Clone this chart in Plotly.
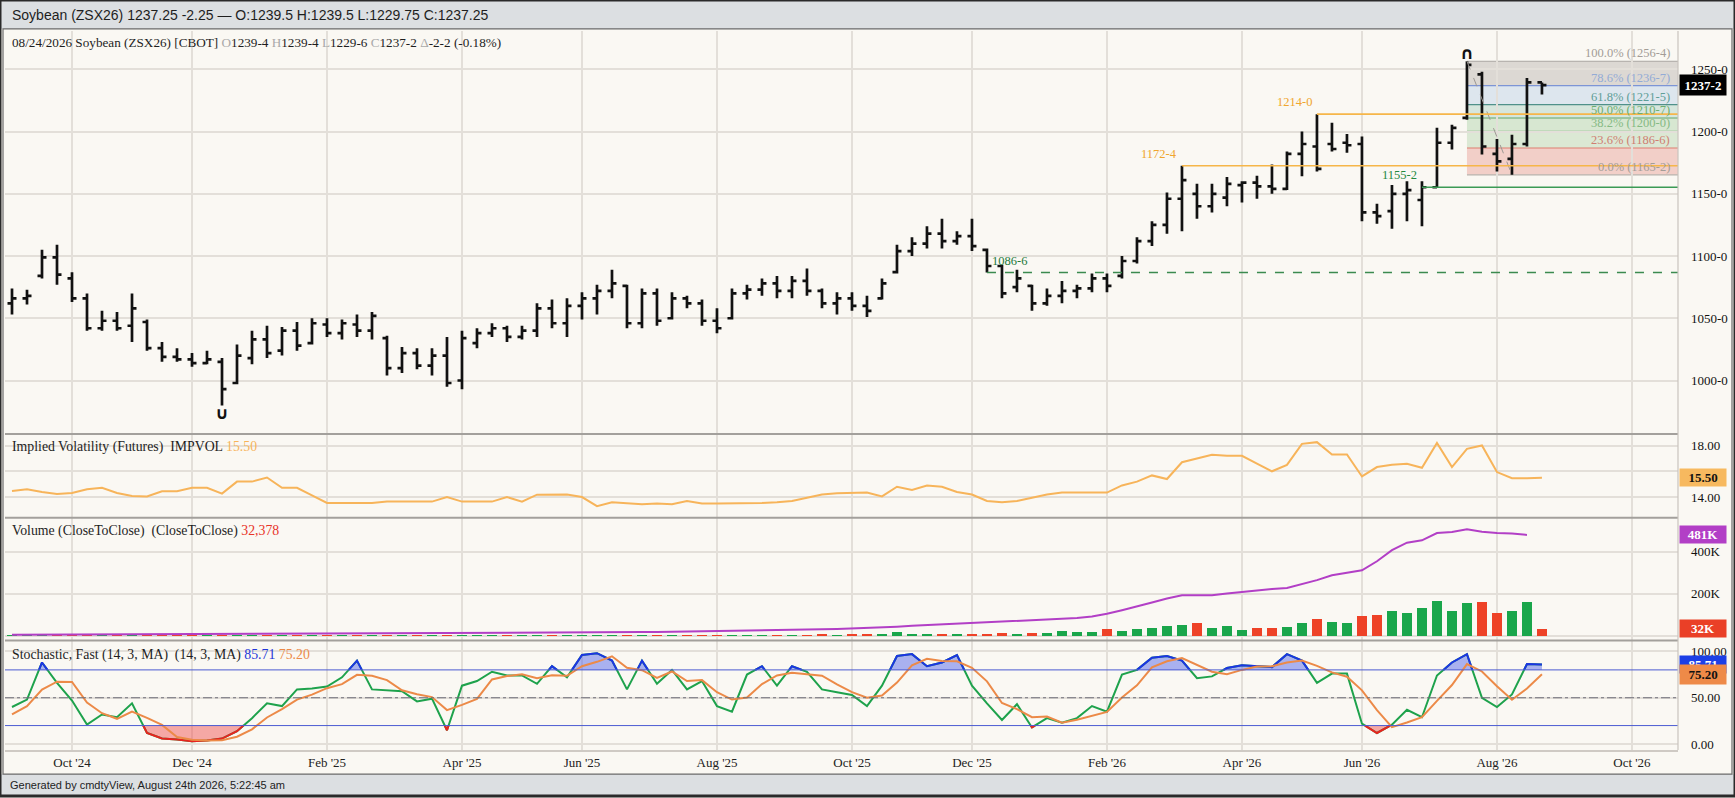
import numpy as np
import pandas as pd
import plotly.graph_objects as go
from plotly.subplots import make_subplots

# weekly bars, Soybean Nov '26 (ZSX26)
opens = [
    1062, 1066, 1084, 1099, 1082, 1066, 1042, 1048, 1044, 1047,
    1026, 1019, 1017, 1014, 1015, 998, 1018, 1033, 1024, 1040,
    1030, 1045, 1038, 1045, 1040, 1034, 1010, 1022, 1012, 1020,
    1000, 1030, 1038, 1042, 1035, 1040, 1058, 1046, 1060, 1066,
    1072, 1076, 1046, 1070, 1050, 1066, 1062, 1048, 1050, 1070,
    1073, 1078, 1072, 1080, 1072, 1062, 1066, 1060, 1066, 1087,
    1104, 1110, 1118, 1112, 1116, 1105, 1092, 1075, 1076, 1062,
    1068, 1072, 1074, 1082, 1084, 1096, 1112, 1125, 1146, 1150,
    1140, 1147, 1157, 1159, 1156, 1154, 1182, 1188, 1190, 1191,
    1190, 1135, 1136, 1150, 1145, 1155.25, 1191, 1211, 1246, 1182,
    1178, 1190, 1239.5]
highs = [
    1074, 1073, 1105, 1109, 1087, 1070, 1056, 1055, 1070, 1049,
    1031, 1026, 1022, 1024, 1018, 1029, 1040, 1044, 1043, 1047,
    1050, 1050, 1049, 1053, 1055, 1036, 1027, 1026, 1026, 1035,
    1040, 1042, 1046, 1044, 1044, 1062, 1065, 1066, 1071, 1077,
    1089, 1077, 1074, 1074, 1071, 1068, 1065, 1058, 1074, 1077,
    1082, 1084, 1084, 1090, 1074, 1071, 1071, 1068, 1082, 1109,
    1115, 1124, 1130, 1120, 1130, 1106, 1093, 1089, 1077, 1074,
    1080, 1077, 1086, 1086, 1100, 1115, 1128, 1151, 1172.5, 1158,
    1158, 1163.5, 1160, 1164.5, 1173.5, 1184, 1200, 1214, 1207, 1198,
    1196, 1142, 1157, 1160, 1160, 1203, 1205.5, 1256.5, 1248, 1194,
    1197.5, 1243, 1239.5]
lows = [
    1053, 1061, 1082, 1077, 1063, 1040, 1040, 1040, 1031, 1024,
    1015, 1015, 1011, 1013, 980, 997, 1013, 1018, 1020, 1024,
    1029, 1035, 1033, 1035, 1033, 1004, 1006, 1009, 1004, 995,
    993, 1026, 1035, 1031, 1033, 1035, 1042, 1035, 1049, 1053,
    1066, 1042, 1042, 1044, 1049, 1058, 1044, 1038, 1049, 1065,
    1068, 1066, 1066, 1068, 1058, 1053, 1056, 1051, 1065, 1086,
    1100, 1106, 1106, 1109, 1104, 1086.75, 1066, 1071, 1056, 1060,
    1062, 1066, 1071, 1071, 1082, 1094, 1108, 1118, 1120, 1130,
    1135, 1140, 1143, 1146, 1150, 1153, 1164, 1168, 1184, 1183,
    1128, 1126, 1122, 1128, 1124, 1155.25, 1185.5, 1209.5, 1181.5, 1168,
    1165.25, 1188, 1229.75]
closes = [
    1066, 1068, 1099, 1085, 1066, 1042, 1048, 1042, 1058, 1026,
    1019, 1017, 1014, 1017, 993, 1020, 1033, 1022, 1040, 1028,
    1046, 1038, 1046, 1040, 1052, 1010, 1022, 1012, 1020, 998,
    1034, 1038, 1042, 1035, 1040, 1058, 1046, 1060, 1066, 1072,
    1078, 1046, 1070, 1048, 1066, 1062, 1048, 1042, 1070, 1073,
    1078, 1072, 1080, 1072, 1062, 1066, 1060, 1056, 1078, 1104,
    1110, 1118, 1112, 1116, 1108, 1092, 1070, 1082, 1062, 1068,
    1072, 1074, 1082, 1076, 1096, 1112, 1125, 1146, 1161, 1140,
    1150, 1158, 1159, 1156, 1154, 1182, 1190, 1170, 1186, 1189,
    1135, 1132, 1150, 1153, 1155.25, 1191, 1203, 1253.5, 1188, 1176,
    1190, 1239.5, 1237.25]

volume = [
    310, 240, 520, 610, 450, 380, 290, 350, 480, 560,
    420, 300, 260, 330, 690, 540, 470, 390, 420, 360,
    510, 620, 480, 400, 570, 720, 650, 530, 480, 610,
    780, 890, 760, 820, 940, 1150, 1280, 1090, 1420, 1610,
    1530, 1980, 1760, 2140, 2380, 2210, 2650, 2930, 3380, 3120,
    3560, 4010, 3720, 4350, 5120, 4780, 5630, 6240, 5860, 19800,
    8900, 9400, 8700, 7600, 9900, 11800, 13400, 10900, 12700, 14800,
    24300, 17600, 16900, 34400, 24700, 31200, 39500, 45700, 53800, 61900,
    38000, 45700, 30000, 38000, 38000, 42800, 61900, 82400, 66600, 62000,
    95000, 101000, 120500, 109500, 134800, 166600, 120500, 157000, 160000, 111000,
    119000, 160000, 32378]
open_interest = [
    4200, 4400, 4700, 4900, 5100, 5300, 5400, 5600, 5900, 6100,
    6300, 6400, 6600, 6800, 7200, 7400, 7700, 7900, 8200, 8400,
    8700, 8900, 9200, 9500, 9700, 10000, 10300, 10600, 10800, 11100,
    11500, 11900, 12200, 12500, 12900, 13300, 13800, 14200, 14800, 15300,
    15900, 16500, 17200, 17800, 18600, 19400, 20300, 21200, 22100, 23200,
    24400, 25700, 27100, 28600, 30300, 32100, 34200, 36500, 38900, 42800,
    46900, 50300, 53800, 57400, 60200, 63500, 66800, 69700, 72900, 76400,
    80100, 84600, 91300, 104500, 121800, 138600, 158200, 177600, 193000, 193000,
    193000, 201000, 209000, 218000, 223000, 228000, 246000, 265000, 288000, 301000,
    312000, 355000, 408000, 444000, 455000, 490000, 495000, 508000, 496000, 490000,
    488000, 481000, None]
imp_vol = [
    14.48, 14.61, 14.40, 14.24, 14.32, 14.61, 14.72, 14.32, 14.08, 14.05,
    14.45, 14.45, 14.72, 14.72, 14.27, 15.20, 15.20, 15.52, 14.72, 14.72,
    14.13, 13.55, 13.55, 13.55, 13.55, 13.65, 13.65, 13.65, 13.65, 14.00,
    13.65, 13.65, 13.65, 14.00, 13.65, 14.19, 14.19, 14.20, 14.00, 13.30,
    13.60, 13.50, 13.45, 13.50, 13.45, 13.70, 13.50, 13.50, 13.50, 13.50,
    13.55, 13.60, 13.70, 13.95, 14.20, 14.30, 14.35, 14.35, 14.05, 14.80,
    14.55, 14.90, 14.80, 14.40, 14.20, 13.70, 13.60, 13.70, 13.95, 14.20,
    14.35, 14.35, 14.35, 14.35, 14.90, 15.20, 15.68, 15.40, 16.70, 16.97,
    17.28, 17.20, 17.20, 16.60, 16.00, 16.50, 18.13, 18.26, 17.30, 17.30,
    15.60, 16.33, 16.50, 16.58, 16.27, 18.20, 16.33, 17.74, 18.00, 15.94,
    15.47, 15.47, 15.50]
stoch_k = [
    40, 48, 88, 66, 47, 21, 32, 29, 44, 12,
    6, 5, 3, 4, 6, 14, 28, 44, 41, 59,
    60, 62, 72, 90, 59, 58, 57, 46, 49, 15,
    63, 68, 78, 74, 74, 65, 84, 72, 96, 98,
    90, 59, 90, 65, 80, 59, 68, 41, 35, 75,
    84, 63, 84, 78, 59, 56, 53, 41, 63, 95,
    97, 84, 88, 96, 63, 44, 26, 43, 18, 28,
    23, 28, 41, 35, 75, 80, 93, 95, 90, 71,
    73, 82, 85, 84, 83, 97, 90, 66, 76, 76,
    22, 12, 21, 37, 29, 74, 88, 97, 50, 40,
    53.5, 86.4, 85.71]
stoch_d = [
    32, 41, 58.7, 67.3, 67, 44.7, 33.3, 27.3, 35, 28.3,
    20.7, 7.7, 4.7, 4, 4.3, 8, 16, 28.7, 37.7, 48,
    53.3, 60.3, 64.7, 74.7, 73.7, 69, 58, 53.7, 50.7, 36.7,
    42.3, 48.7, 69.7, 73.3, 75.3, 71, 74.3, 73.7, 84, 88.7,
    94.7, 82.3, 79.7, 71.3, 78.3, 68, 69, 56, 48, 50.3,
    64.7, 74, 77, 75, 73.7, 64.3, 56, 50, 52.3, 66.3,
    85, 92, 89.7, 89.3, 82.3, 67.7, 44.3, 37.7, 29, 29.7,
    23, 26.3, 30.7, 34.7, 50.3, 63.3, 82.7, 89.3, 92.7, 85.3,
    78, 75.3, 80, 83.7, 84, 88, 90, 84.3, 77.3, 72.7,
    58, 36.7, 18.3, 23.3, 29, 46.7, 63.7, 86.3, 78.3, 62.3,
    47.8, 60, 75.2]

month_ticks = ['2024-10-07', '2024-12-02', '2025-02-03', '2025-04-07', '2025-06-02',
               '2025-08-04', '2025-10-06', '2025-12-01', '2026-02-02', '2026-04-06',
               '2026-06-01', '2026-08-03', '2026-10-05']
month_labels = ["Oct '24", "Dec '24", "Feb '25", "Apr '25", "Jun '25", "Aug '25", "Oct '25",
                "Dec '25", "Feb '26", "Apr '26", "Jun '26", "Aug '26", "Oct '26"]
price_ticks = [1000, 1050, 1100, 1150, 1200, 1250]
iv_ticks = [14, 16, 18]
iv_labels = ['14.00', '', '18.00']
vol_ticks = [0, 200000, 400000]
vol_labels = ['', '200K', '400K']
stoch_ticks = [0, 50, 100]
stoch_labels = ['0.00', '50.00', '100.00']

fib_ratios = [1.0, 0.786, 0.618, 0.5, 0.382, 0.236, 0.0]
level_prices = [1214.0, 1172.5, 1155.25, 1086.75]
level_start = [87, 78, 94, 65]

dates = pd.date_range('2024-09-09', periods=len(closes), freq='7D')
week = pd.Timedelta(days=7)
x_range = [dates[0] - 0.467 * week, dates[-1] + 9.07 * week]

W, H = 1735, 798
SERIF = 'Liberation Serif'
SANS = 'Liberation Sans'
BG = '#faf8f3'
GRID = '#e3dfd9'


def fmt8(p):
    whole = int(np.floor(p + 1e-9))
    return f"{whole}-{int((p - whole) * 8 + 1e-6)}"


def py(px):
    # pixel row from the top -> paper fraction
    return 1 - px / H


def clip_runs(xs, ys, level, above):
    # pieces of the series beyond a level, with the crossing points added
    runs = []
    cur = None
    for j in range(len(ys)):
        b = ys[j] > level if above else ys[j] < level
        if j > 0:
            b0 = ys[j - 1] > level if above else ys[j - 1] < level
            if b0 != b:
                t = (level - ys[j - 1]) / (ys[j] - ys[j - 1])
                xc = xs[j - 1] + t * (xs[j] - xs[j - 1])
                if b:
                    cur = [(xc, level)]
                else:
                    cur.append((xc, level))
                    runs.append(cur)
                    cur = None
        elif b:
            cur = [(xs[0], level)]
        if b:
            cur.append((xs[j], ys[j]))
    if cur is not None:
        runs.append(cur)
    return runs


fig = make_subplots(rows=4, cols=1, shared_xaxes=True, vertical_spacing=0)

# price bars
fig.add_trace(go.Ohlc(x=dates, open=opens, high=highs, low=lows, close=closes,
                      increasing_line_color='#111', decreasing_line_color='#111',
                      line=dict(width=2.7), tickwidth=0.3, hoverinfo='skip'), row=1, col=1)

hi_idx = int(np.argmax(highs))
lo_idx = int(np.argmin(lows))
fib_lo_idx = hi_idx + int(np.argmin(lows[hi_idx:]))
fib_hi, fib_lo = highs[hi_idx], lows[fib_lo_idx]
fib_levels = [fib_lo + r * (fib_hi - fib_lo) for r in fib_ratios]

fib_fill = ['#dcd8d3', '#dde6ee', '#d6e6dd', '#d7e7d1', '#dbe8d4', '#f2cfc8']
fib_line = ['#aaa6a2', '#7d95d6', '#4f918a', '#64a56a', '#7db27b', '#de7f70', '#b8b2ac']
fib_text = ['#a39d97', '#93abd6', '#5f9e98', '#6fae70', '#86ba84', '#cf7f72', '#a39d97']
for k in range(len(fib_levels) - 1):
    fig.add_shape(type='rect', xref='x', yref='y', x0=dates[hi_idx], x1=x_range[1],
                  y0=fib_levels[k + 1], y1=fib_levels[k], fillcolor=fib_fill[k],
                  line_width=0, layer='below')
for k, (r, lv) in enumerate(zip(fib_ratios, fib_levels)):
    fig.add_shape(type='line', xref='x', yref='y', x0=dates[hi_idx], x1=x_range[1],
                  y0=lv, y1=lv, line=dict(color=fib_line[k], width=1.2), layer='below')
    fig.add_annotation(xref='paper', yref='y', x=1672 / W, y=lv, xanchor='right', yanchor='bottom',
                       text=f"{r * 100:.1f}% ({fmt8(lv)})", showarrow=False, yshift=-1,
                       font=dict(family=SERIF, size=12.5, color=fib_text[k]))

fig.add_trace(go.Scatter(x=[dates[hi_idx], dates[fib_lo_idx]], y=[fib_hi, fib_lo], mode='lines',
                         line=dict(color='#9d9893', width=1, dash='dash'), hoverinfo='skip'),
              row=1, col=1)

level_colors = ['#f6b649', '#f6b649', '#3b9a55', '#3b8a4f']
level_text = ['#f0a52d', '#f0a52d', '#23893f', '#23793a']
level_dash = ['solid', 'solid', 'solid', 'dash']
label_off = [-1.5, -1.5, -1.5, 1.5]
for lv, st, c, tc, ds, off in zip(level_prices, level_start, level_colors, level_text, level_dash, label_off):
    fig.add_shape(type='line', xref='x', yref='y', x0=dates[st], x1=x_range[1], y0=lv, y1=lv,
                  line=dict(color=c, width=1.6, dash=ds))
    fig.add_annotation(xref='x', yref='y', x=dates[st] + off * week, y=lv, yanchor='bottom',
                       yshift=3, text=fmt8(lv), showarrow=False,
                       font=dict(family=SERIF, size=12.5, color=tc))

# swing high / low markers
fig.add_annotation(xref='x', yref='y', x=dates[hi_idx], y=highs[hi_idx], yanchor='bottom', yshift=-4,
                   text='<b>∩</b>', showarrow=False, font=dict(family='DejaVu Sans', size=17, color='#111'))
fig.add_annotation(xref='x', yref='y', x=dates[lo_idx], y=lows[lo_idx], yanchor='top', yshift=4,
                   text='<b>∪</b>', showarrow=False, font=dict(family='DejaVu Sans', size=17, color='#111'))

# implied volatility
fig.add_trace(go.Scatter(x=dates, y=imp_vol, mode='lines', line=dict(color='#f7b45a', width=2),
                         hoverinfo='skip'), row=2, col=1)

# volume + open interest
vol_colors = ['#1aa64b' if i == 0 or closes[i] >= closes[i - 1] else '#ee4227' for i in range(len(closes))]
fig.add_trace(go.Bar(x=dates, y=volume, marker_color=vol_colors, marker_line_width=0,
                     width=0.66 * 7 * 86400000, hoverinfo='skip'), row=3, col=1)
fig.add_trace(go.Scatter(x=dates, y=open_interest, mode='lines', line=dict(color='#b23fc6', width=2),
                         hoverinfo='skip'), row=3, col=1)

# stochastic: shaded zones, %K line (green / blue / red), %D line
xs_ms = (dates.astype('int64') // 10 ** 6).astype(float).tolist()
zones = [(80, True, 'rgba(70,90,235,0.45)', '#1c34e4'),
         (20, False, 'rgba(240,70,70,0.45)', '#e8231f')]
for level, above, fillc, linec in zones:
    fx, fy = [], []
    for run in clip_runs(xs_ms, stoch_k, level, above):
        pts = list(run)
        if pts[-1][1] != level:
            pts.append((pts[-1][0], level))
        fx += [pd.to_datetime(p[0], unit='ms') for p in pts] + [None]
        fy += [p[1] for p in pts] + [None]
    fig.add_trace(go.Scatter(x=fx, y=fy, mode='lines', fill='toself', fillcolor=fillc,
                             line=dict(width=0), hoverinfo='skip'), row=4, col=1)

fig.add_trace(go.Scatter(x=dates, y=stoch_k, mode='lines', line=dict(color='#1ea24c', width=2),
                         hoverinfo='skip'), row=4, col=1)
for level, above, fillc, linec in zones:
    lx, ly = [], []
    for run in clip_runs(xs_ms, stoch_k, level, above):
        lx += [pd.to_datetime(p[0], unit='ms') for p in run] + [None]
        ly += [p[1] for p in run] + [None]
    fig.add_trace(go.Scatter(x=lx, y=ly, mode='lines', line=dict(color=linec, width=2),
                             hoverinfo='skip'), row=4, col=1)
fig.add_trace(go.Scatter(x=dates, y=stoch_d, mode='lines', line=dict(color='#ec8a48', width=2),
                         hoverinfo='skip'), row=4, col=1)

fig.add_hline(y=80, row=4, col=1, line=dict(color='#4b5bd2', width=1))
fig.add_hline(y=20, row=4, col=1, line=dict(color='#4b5bd2', width=1))
fig.add_hline(y=50, row=4, col=1, line=dict(color='#6d6d78', width=1.2, dash='dashdot'))

# axes
domains = [[py(435), py(31)], [py(519), py(435)], [py(642), py(519)], [py(752), py(642)]]
for i in range(4):
    fig.update_xaxes(type='date', range=x_range, domain=[5 / W, 1678 / W], tickvals=month_ticks,
                     ticktext=month_labels, showgrid=True, gridcolor=GRID, gridwidth=1.6,
                     zeroline=False, showticklabels=(i == 3), ticks='', rangeslider_visible=False,
                     tickfont=dict(family=SERIF, size=13, color='#222'), row=i + 1, col=1)
fig.update_xaxes(showline=True, linecolor='#cfcac4', linewidth=1.5, row=4, col=1)

yax = [
    dict(range=[957.1, 1280.85], tickvals=price_ticks, ticktext=[fmt8(v) for v in price_ticks]),
    dict(range=[12.4, 18.9], tickvals=iv_ticks, ticktext=iv_labels),
    dict(range=[-22400, 563000], tickvals=vol_ticks, ticktext=vol_labels),
    dict(range=[-6.45, 111.8], tickvals=stoch_ticks, ticktext=stoch_labels),
]
for i, ya in enumerate(yax):
    fig.update_yaxes(side='right', domain=domains[i], showgrid=True, gridcolor=GRID, gridwidth=1.6,
                     zeroline=False, ticks='', ticklabelstandoff=12, fixedrange=True,
                     tickfont=dict(family=SERIF, size=13, color='#111'), row=i + 1, col=1, **ya)

# value boxes on the right scale
box_x = 1679 / W
boxes = [
    ('y', closes[-1], fmt8(closes[-1]), '#000', '#fff', 20),
    ('y2', imp_vol[-1], f"{imp_vol[-1]:.2f}", '#f7b95f', '#111', 17),
    ('y3', open_interest[-2], f"{open_interest[-2] / 1000:.0f}K", '#b23fc6', '#fff', 17),
    ('y3', volume[-1], f"{volume[-1] / 1000:.0f}K", '#ea4027', '#fff', 17),
    ('y4', stoch_k[-1], f"{stoch_k[-1]:.2f}", '#1c3fe6', '#fff', 17),
    ('y4', stoch_d[-1], f"{stoch_d[-1]:.2f}", '#ee8a48', '#111', 19),
]
for yref, val, txt, bg, fc, hh in boxes:
    fig.add_annotation(xref='paper', yref=yref, x=box_x, y=val, xanchor='left', yanchor='middle',
                       text=f"<b>{txt}</b>", showarrow=False, bgcolor=bg, width=46, height=hh,
                       borderpad=0, font=dict(family=SERIF, size=13, color=fc))

# header / footer / frame
fig.add_shape(type='rect', xref='paper', yref='paper', x0=0, x1=1, y0=py(29), y1=1,
              fillcolor='#dcdfe2', line_width=0, layer='below')
fig.add_shape(type='rect', xref='paper', yref='paper', x0=0, x1=1, y0=0, y1=py(776),
              fillcolor='#dcdfe2', line_width=0, layer='below')
fig.add_shape(type='rect', xref='paper', yref='paper', x0=3 / W, x1=1732 / W, y0=py(776), y1=py(29),
              line=dict(color='#6b6b6b', width=1.2), fillcolor='rgba(0,0,0,0)')
fig.add_shape(type='rect', xref='paper', yref='paper', x0=0, x1=1, y0=0, y1=1,
              line=dict(color='#2a2a2a', width=3), fillcolor='rgba(0,0,0,0)')
for yy in [435, 519, 642]:
    fig.add_shape(type='line', xref='paper', yref='paper', x0=5 / W, x1=1678 / W, y0=py(yy), y1=py(yy),
                  line=dict(color='#a3a09c', width=2))
fig.add_shape(type='line', xref='paper', yref='paper', x0=1678 / W, x1=1678 / W, y0=py(752), y1=py(31),
              line=dict(color='#c9c4be', width=1.2))

chg = closes[-1] - closes[-2]
pct = chg / closes[-2] * 100
sign = '-' if chg < 0 else '+'
fig.add_annotation(xref='paper', yref='paper', x=10 / W, y=py(15), xanchor='left', yanchor='middle',
                   text=f"Soybean (ZSX26) {closes[-1]:g} {chg:g} — O:{opens[-1]:g} H:{highs[-1]:g} "
                        f"L:{lows[-1]:g} C:{closes[-1]:g}",
                   showarrow=False, font=dict(family=SANS, size=14, color='#1e1e1e'))
g = "<span style='color:#a9a9a9'>{}</span>"
fig.add_annotation(xref='paper', yref='paper', x=10 / W, y=py(43), xanchor='left', yanchor='middle',
                   text=f"08/24/2026 Soybean (ZSX26) [CBOT] {g.format('O')}{fmt8(opens[-1])} "
                        f"{g.format('H')}{fmt8(highs[-1])} {g.format('L')}{fmt8(lows[-1])} "
                        f"{g.format('C')}{fmt8(closes[-1])} {g.format('Δ')}{sign}{fmt8(abs(chg))} ({pct:.2f}%)",
                   showarrow=False, font=dict(family=SERIF, size=13.2, color='#1e1e1e'))
titles = [
    (448, f"Implied Volatility (Futures)  IMPVOL <span style='color:#f7b45a'>{imp_vol[-1]:.2f}</span>"),
    (532, f"Volume (CloseToClose)  (CloseToClose) <span style='color:#e8352a'>{volume[-1]:,}</span>"),
    (657, f"Stochastic, Fast (14, 3, MA)  (14, 3, MA) <span style='color:#2236d8'>{stoch_k[-1]:.2f}</span> "
          f"<span style='color:#ec8a48'>{stoch_d[-1]:.2f}</span>"),
]
for yy, txt in titles:
    fig.add_annotation(xref='paper', yref='paper', x=10 / W, y=py(yy), xanchor='left', yanchor='middle',
                       text=txt, showarrow=False, font=dict(family=SERIF, size=13.8, color='#1e1e1e'))
fig.add_annotation(xref='paper', yref='paper', x=8 / W, y=py(787), xanchor='left', yanchor='middle',
                   text="Generated by cmdtyView, August 24th 2026, 5:22:45 am", showarrow=False,
                   font=dict(family=SANS, size=11, color='#222'))

fig.update_layout(width=W, height=H, margin=dict(l=0, r=0, t=0, b=0), paper_bgcolor=BG,
                  plot_bgcolor=BG, showlegend=False, hovermode=False, bargap=0)

fig.write_html("out.html", config={'displayModeBar': False},
               post_script="document.body.style.margin='0';document.body.style.overflow='hidden';")
